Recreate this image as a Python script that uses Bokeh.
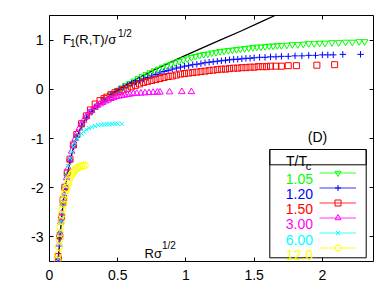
from bokeh.plotting import figure
from bokeh.models import (Range1d, LinearAxis, FixedTicker, Label, BoxAnnotation,
                          Legend, LegendItem)
from bokeh.embed import file_html
from bokeh.resources import INLINE

# ---------------- data ----------------
x_ticks = [0, 0.5, 1, 1.5, 2]
x_tick_labels = ["0", "0.5", "1", "1.5", "2"]
y_ticks = [-3, -2, -1, 0, 1]
y_tick_labels = ["-3", "-2", "-1", "0", "1"]

temps = ["1.05", "1.20", "1.50", "3.00", "6.00", "12.0"]
colors = ["#00ff00", "#0000ff", "#ff0000", "#ff00ff", "#00ffff", "#ffff00"]
markers = ["inverted_triangle", "cross", "square", "triangle", "x", "circle"]
marker_sizes = [6.5, 6.5, 6, 6.5, 6, 7]

# T = 0 reference curve (black line)
ref_r = [0.064, 0.075, 0.088, 0.10, 0.113, 0.13, 0.15, 0.175, 0.20, 0.235, 0.27, 0.31,
         0.371, 0.45, 0.542, 0.65, 0.787, 0.957, 1.104, 1.25, 1.40, 1.55, 1.653, 1.75]
ref_f = [-3.5, -3.05, -2.66, -2.32, -2.05, -1.76, -1.48, -1.18, -0.97, -0.74, -0.58, -0.45,
         -0.29, -0.11, 0.06, 0.23, 0.42, 0.64, 0.82, 1.00, 1.18, 1.37, 1.50, 1.62]

# T/Tc = 1.05
r105 = [0.064, 0.075, 0.088, 0.10, 0.113, 0.13, 0.15, 0.175, 0.20, 0.235, 0.27, 0.31, 0.35, 0.40, 0.45,
        0.50, 0.53, 0.56, 0.59, 0.62, 0.65, 0.68, 0.71, 0.74, 0.77, 0.80, 0.83, 0.86, 0.89, 0.92,
        0.95, 0.98, 1.01, 1.04, 1.07, 1.10, 1.13, 1.16, 1.19, 1.22, 1.25, 1.28, 1.31, 1.34, 1.37,
        1.40, 1.43, 1.46, 1.49, 1.52, 1.55, 1.58, 1.61, 1.64, 1.67, 1.70, 1.74, 1.78, 1.82, 1.86,
        1.90, 1.94, 1.98, 2.02, 2.07, 2.12, 2.17, 2.22, 2.27, 2.31]
f105 = [-3.45, -3.02, -2.64, -2.30, -2.03, -1.74, -1.46, -1.17, -0.96, -0.74, -0.58, -0.45, -0.34, -0.22, -0.11,
        -0.02, 0.03, 0.08, 0.12, 0.17, 0.22, 0.26, 0.30, 0.34, 0.38, 0.41, 0.45, 0.48, 0.51, 0.54,
        0.57, 0.60, 0.62, 0.65, 0.67, 0.69, 0.71, 0.72, 0.74, 0.75, 0.77, 0.78, 0.79, 0.80, 0.81,
        0.82, 0.83, 0.84, 0.85, 0.86, 0.86, 0.87, 0.88, 0.88, 0.89, 0.89, 0.90, 0.91, 0.91, 0.92,
        0.93, 0.93, 0.94, 0.94, 0.95, 0.95, 0.96, 0.96, 0.97, 0.97]

# T/Tc = 1.20
r120 = [0.064, 0.075, 0.088, 0.10, 0.113, 0.13, 0.15, 0.175, 0.20, 0.235, 0.27, 0.31, 0.35, 0.40,
        0.45, 0.48, 0.51, 0.54, 0.57, 0.60, 0.63, 0.66, 0.69, 0.72, 0.75, 0.78, 0.81, 0.84, 0.87,
        0.90, 0.93, 0.96, 0.99, 1.02, 1.05, 1.08, 1.11, 1.14, 1.17, 1.20, 1.23, 1.26, 1.29, 1.32,
        1.35, 1.38, 1.41, 1.44, 1.47, 1.50, 1.54, 1.58, 1.62, 1.66, 1.70, 1.75, 1.80, 1.85, 1.90,
        1.95, 2.00, 2.04, 2.08, 2.15, 2.28]
f120 = [-3.45, -3.02, -2.64, -2.30, -2.03, -1.74, -1.46, -1.17, -0.96, -0.74, -0.58, -0.45, -0.33, -0.20,
        -0.10, -0.05, 0.00, 0.04, 0.08, 0.12, 0.15, 0.18, 0.21, 0.24, 0.27, 0.30, 0.33, 0.36, 0.38,
        0.41, 0.43, 0.45, 0.47, 0.48, 0.50, 0.51, 0.52, 0.54, 0.55, 0.56, 0.57, 0.58, 0.59, 0.60,
        0.61, 0.61, 0.62, 0.63, 0.63, 0.64, 0.65, 0.65, 0.66, 0.66, 0.67, 0.67, 0.68, 0.68, 0.69,
        0.69, 0.70, 0.70, 0.70, 0.71, 0.71]

# T/Tc = 1.50
r150 = [0.064, 0.075, 0.088, 0.10, 0.113, 0.13, 0.15, 0.175, 0.20, 0.235, 0.27, 0.30, 0.335, 0.37, 0.40,
        0.42, 0.45, 0.48, 0.51, 0.54, 0.57, 0.60, 0.63, 0.66, 0.69, 0.72, 0.75, 0.78, 0.81, 0.84,
        0.87, 0.90, 0.93, 0.96, 0.99, 1.02, 1.05, 1.08, 1.11, 1.14, 1.17, 1.20, 1.23, 1.26, 1.29,
        1.32, 1.35, 1.38, 1.41, 1.44, 1.47, 1.50, 1.53, 1.56, 1.59, 1.62, 1.66, 1.70, 1.75, 1.81,
        1.96, 2.09]
f150 = [-3.40, -2.98, -2.60, -2.26, -1.99, -1.70, -1.42, -1.13, -0.92, -0.70, -0.54, -0.42, -0.30, -0.23, -0.19,
        -0.16, -0.11, -0.07, -0.04, -0.01, 0.02, 0.05, 0.08, 0.11, 0.14, 0.16, 0.18, 0.20, 0.22, 0.24,
        0.26, 0.27, 0.29, 0.31, 0.32, 0.33, 0.34, 0.35, 0.36, 0.37, 0.38, 0.39, 0.40, 0.41, 0.41,
        0.42, 0.43, 0.43, 0.44, 0.44, 0.45, 0.45, 0.46, 0.46, 0.46, 0.47, 0.47, 0.47, 0.48, 0.48,
        0.49, 0.50]

# T/Tc = 3.00
r300 = [0.064, 0.07, 0.076, 0.083, 0.09, 0.098, 0.106, 0.115, 0.125, 0.137, 0.15, 0.162, 0.174, 0.188,
        0.203, 0.218, 0.234, 0.25, 0.27, 0.29, 0.31, 0.333, 0.35, 0.37, 0.39, 0.41, 0.43, 0.45, 0.47,
        0.49, 0.51, 0.53, 0.55, 0.57, 0.59, 0.615, 0.64, 0.67, 0.70, 0.73, 0.76, 0.79, 0.81, 0.88,
        0.97, 1.04]
f300 = [-3.45, -3.15, -2.92, -2.70, -2.52, -2.32, -2.15, -1.98, -1.80, -1.60, -1.42, -1.26, -1.12, -1.00,
        -0.89, -0.79, -0.70, -0.63, -0.55, -0.48, -0.43, -0.37, -0.33, -0.30, -0.27, -0.24, -0.22, -0.19, -0.17,
        -0.15, -0.14, -0.13, -0.12, -0.11, -0.10, -0.09, -0.085, -0.08, -0.075, -0.07, -0.065, -0.06, -0.06, -0.055,
        -0.05, -0.05]

# T/Tc = 6.00
r600 = [0.064, 0.07, 0.076, 0.083, 0.09, 0.098, 0.106, 0.115, 0.125, 0.137, 0.15, 0.162, 0.174, 0.188,
        0.203, 0.218, 0.234, 0.25, 0.27, 0.29, 0.31, 0.335, 0.357, 0.38, 0.40, 0.42, 0.44, 0.46, 0.48,
        0.50, 0.53]
f600 = [-3.45, -3.15, -2.90, -2.68, -2.50, -2.30, -2.13, -1.96, -1.78, -1.56, -1.40, -1.28, -1.17, -1.08,
        -1.00, -0.94, -0.90, -0.86, -0.82, -0.79, -0.77, -0.75, -0.73, -0.72, -0.715, -0.71, -0.71, -0.705, -0.70,
        -0.70, -0.70]

# T/Tc = 12.0
r1200 = [0.060, 0.064, 0.068, 0.072, 0.076, 0.080, 0.085, 0.090, 0.095, 0.100, 0.106, 0.112, 0.118,
         0.125, 0.133, 0.141, 0.150, 0.160, 0.170, 0.181, 0.193, 0.205, 0.218, 0.232, 0.246, 0.259]
f1200 = [-3.48, -3.35, -3.20, -3.05, -2.92, -2.80, -2.68, -2.55, -2.44, -2.34, -2.24, -2.14, -2.06,
         -2.00, -1.92, -1.85, -1.79, -1.74, -1.70, -1.66, -1.62, -1.60, -1.58, -1.56, -1.55, -1.545]

series_r = [r105, r120, r150, r300, r600, r1200]
series_f = [f105, f120, f150, f300, f600, f1200]

# ---------------- figure ----------------
FONT = "Liberation Sans"
X_RANGE = (0, 2.375)
Y_RANGE = (-3.5, 1.5)
FW, FH = 324, 246           # frame size in px
FL, FT = 49, 15             # frame left / top on the page

p = figure(width=380, height=292, x_range=Range1d(*X_RANGE), y_range=Range1d(*Y_RANGE),
           output_backend="svg", toolbar_location=None,
           min_border_left=FL, min_border_right=7, min_border_top=FT, min_border_bottom=31)
p.background_fill_color = "white"
p.border_fill_color = "white"
p.grid.visible = False
p.outline_line_color = "black"
p.outline_line_width = 1
p.outline_line_alpha = 1
# an off-screen range, used only by the legend's samples
p.extra_x_ranges = {"legend_only": Range1d(1000, 1001)}


def px_x(px):
    return X_RANGE[0] + (px - FL) * (X_RANGE[1] - X_RANGE[0]) / FW


def px_y(py):
    return Y_RANGE[1] - (py - FT) * (Y_RANGE[1] - Y_RANGE[0]) / FH


def style_axis(ax, ticks, labels, show):
    ax.ticker = FixedTicker(ticks=ticks)
    ax.major_label_overrides = {t: (l if show else "") for t, l in zip(ticks, labels)}
    ax.axis_line_color = None
    ax.major_tick_in = 4
    ax.major_tick_out = 0
    ax.major_tick_line_color = "black"
    ax.minor_tick_in = 0
    ax.minor_tick_out = 0
    ax.major_label_text_font = FONT
    ax.major_label_text_color = "black"
    if not show:
        ax.major_label_text_font_size = "0px"
        ax.major_label_standoff = 0


style_axis(p.xaxis[0], x_ticks, x_tick_labels, True)
p.xaxis.major_label_text_font_size = "14px"
p.xaxis.major_label_standoff = 8
style_axis(p.yaxis[0], y_ticks, y_tick_labels, True)
p.yaxis.major_label_text_font_size = "14px"
p.yaxis.major_label_standoff = 6

top_axis = LinearAxis()
style_axis(top_axis, x_ticks, x_tick_labels, False)
p.add_layout(top_axis, "above")
right_axis = LinearAxis()
style_axis(right_axis, y_ticks, y_tick_labels, False)
p.add_layout(right_axis, "right")

# reference curve
p.line(ref_r, ref_f, line_color="black", line_width=1.3)

# data series
items = []
for r, f, c, m, s in zip(series_r, series_f, colors, markers, marker_sizes):
    p.scatter(r, f, marker=m, size=s, line_color=c, fill_color=None, line_width=1)
    # legend samples (same data, off-screen range): line + small marker
    lr = p.line(r, f, line_color=c, line_width=1, line_alpha=0.8, x_range_name="legend_only")
    mr = p.scatter(r, f, marker=m, size=5, line_color=c, fill_color=None, line_width=1,
                   x_range_name="legend_only")
    items.append(LegendItem(label=" ", renderers=[lr, mr]))

legend = Legend(items=items, location=(270, 6), glyph_width=37, glyph_height=15,
                label_height=15, label_width=0, label_standoff=0, spacing=0,
                padding=0, margin=0, border_line_color=None, background_fill_alpha=0,
                label_text_font_size="1px")
p.add_layout(legend)

# legend frame
p.add_layout(BoxAnnotation(left=px_x(269.3), right=px_x(365.7), top=px_y(149), bottom=px_y(257.3),
                           fill_color=None, line_color="black", line_width=1, line_alpha=1))
p.add_layout(BoxAnnotation(left=px_x(269.3), right=px_x(365.7), top=px_y(149), bottom=px_y(164.3),
                           fill_color=None, line_color="black", line_width=1, line_alpha=1))


def lab(px, py, text, size, color="black", align="left"):
    p.add_layout(Label(x=px_x(px), y=px_y(py), text=text, text_font=FONT,
                       text_font_size=size, text_color=color, text_align=align,
                       text_baseline="alphabetic"))


# legend title and entries
lab(285.5, 160.7, "T/T", "14px")
lab(305.3, 165.5, "c", "11px")
for i, (t, c) in enumerate(zip(temps, colors)):
    lab(312.5, 178.3 + 15.2 * i, t, "14px", color=c, align="right")

# axis titles inside the frame
lab(62.5, 38.5, "F", "13px")
lab(69.5, 42.7, "1", "10px")
lab(74.5, 38.5, "(R,T)/σ", "13px")
lab(117.5, 33.3, "1/2", "10px")

lab(144.0, 252.7, "Rσ", "13px")
lab(161.5, 245.0, "1/2", "10px")

lab(307.3, 136.0, "(D)", "14px")

open("out.html", "w").write(file_html(p, INLINE))
